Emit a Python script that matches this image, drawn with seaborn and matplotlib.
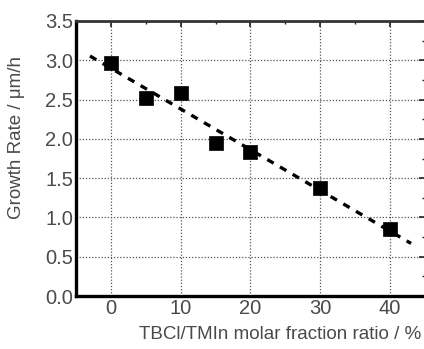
"""Growth rate vs TBCl/TMIn molar fraction ratio."""
import numpy as np
import matplotlib
matplotlib.use('Agg')
import matplotlib.pyplot as plt
from matplotlib.ticker import MultipleLocator, FormatStrFormatter
import seaborn as sns

# data
ratio = [0, 5, 10, 15, 20, 30, 40]
growth_rate = [2.97, 2.52, 2.58, 1.95, 1.83, 1.37, 0.85]

# linear fit drawn across this range
FIT_RANGE = [-3, 43]

sns.set_theme(style="white")
plt.rcParams['font.family'] = ['Liberation Sans', 'DejaVu Sans']

TEXT = "#4a4a4a"

fig = plt.figure(figsize=(4.24, 3.49), dpi=100)
ax = fig.add_axes([76 / 424, 53 / 349, 349 / 424, 275 / 349])

slope, intercept = np.polyfit(ratio, growth_rate, 1)
xfit = np.array(FIT_RANGE)
ax.plot(xfit, slope * xfit + intercept, color="black", lw=2.4,
        ls=(0, (2.2, 2.2)), zorder=3)

sns.scatterplot(x=ratio, y=growth_rate, marker="s", s=90, color="black",
                edgecolor="black", linewidth=0.5, ax=ax, zorder=4)

ax.set_xlim(-5, 45)
ax.set_ylim(0, 3.5)
ax.xaxis.set_major_locator(MultipleLocator(10))
ax.xaxis.set_minor_locator(MultipleLocator(5))
ax.yaxis.set_major_locator(MultipleLocator(0.5))
ax.yaxis.set_minor_locator(MultipleLocator(0.25))
ax.yaxis.set_major_formatter(FormatStrFormatter("%.1f"))

ax.grid(True, which="major", color="#555555", ls=(0, (1, 1.5)), lw=0.9)
ax.tick_params(which="both", direction="in", top=True, right=True,
               colors="#222222", labelcolor=TEXT, labelsize=14.5)
ax.tick_params(which="major", length=4, width=1.2, pad=2)
ax.tick_params(which="minor", length=2.5, width=1)

for side in ["left", "bottom"]:
    ax.spines[side].set_color("black")
    ax.spines[side].set_linewidth(2.4)
for side in ["top", "right"]:
    ax.spines[side].set_color("#333333")
    ax.spines[side].set_linewidth(2.0)

ax.set_xlabel("TBCl/TMIn molar fraction ratio / %", fontsize=13.5, color=TEXT)
ax.set_ylabel("Growth Rate / \u03bcm/h", fontsize=13.5, color=TEXT)
ax.xaxis.set_label_coords(0.585, -0.11)
ax.yaxis.set_label_coords(-0.145, 0.578)

fig.savefig("out.png", dpi=100)
